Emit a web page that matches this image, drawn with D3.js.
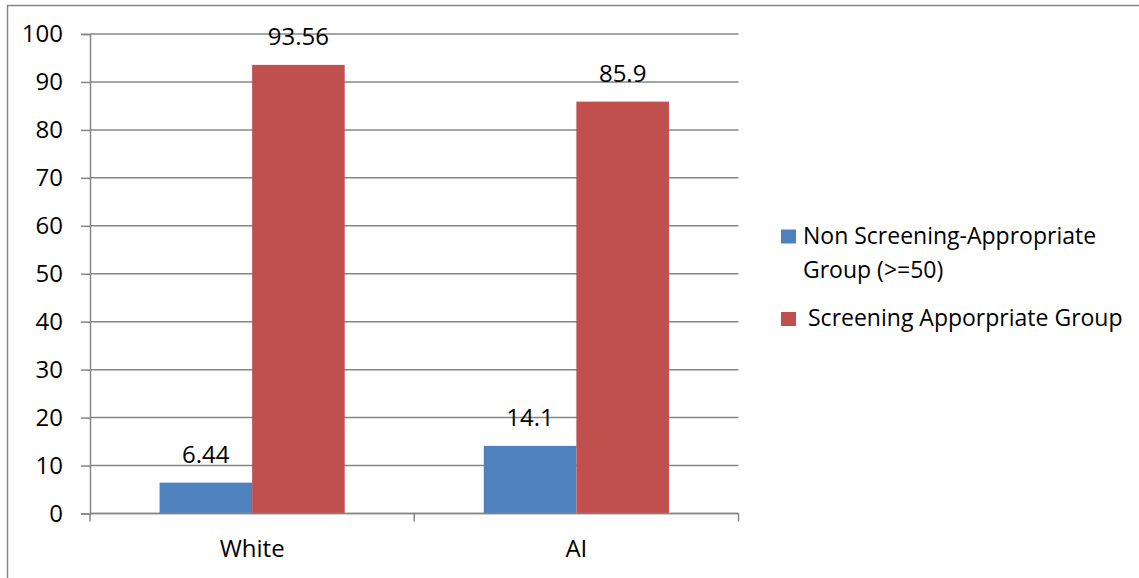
<!DOCTYPE html>
<html>
<head>
<meta charset="utf-8">
<script src="https://cdn.jsdelivr.net/npm/d3@7/dist/d3.min.js"></script>
<style>
  html, body { margin: 0; padding: 0; background: #fff; }
  text { font-family: "Open Sans", "Liberation Sans", sans-serif; fill: #000; }
</style>
</head>
<body>
<svg id="chart" width="1139" height="578"></svg>
<script>
// Chart data
const categories = ["White", "AI"];
const seriesNames = ["Non Screening-Appropriate Group (>=50)", "Screening Apporpriate Group"];
const nonScreening = [6.44, 14.1];
const screening = [93.56, 85.9];
const valueLabels = [["6.44", "14.1"], ["93.56", "85.9"]];
const yTicks = [0, 10, 20, 30, 40, 50, 60, 70, 80, 90, 100];

const colors = ["#4F81BD", "#C0504D"];
const series = [nonScreening, screening];

const svg = d3.select("#chart");
const fontSize = 24;
const legendFontSize = 23;

// outer frame
svg.append("rect")
  .attr("x", 7.5).attr("y", 5.5)
  .attr("width", 1200).attr("height", 700)
  .attr("fill", "none").attr("stroke", "#868686").attr("stroke-width", 1.5);

const plot = { left: 90, right: 738.5, top: 34, bottom: 513.5 };

const x = d3.scaleBand()
  .domain(categories)
  .range([plot.left, plot.right])
  .paddingInner(0.429)
  .paddingOuter(0.2145);

const x1 = d3.scaleBand()
  .domain(d3.range(series.length))
  .range([0, x.bandwidth()]);

const y = d3.scaleLinear().domain([0, 100]).range([plot.bottom, plot.top]);

// horizontal gridlines
svg.append("g").selectAll("line")
  .data(yTicks)
  .join("line")
  .attr("x1", plot.left).attr("x2", plot.right)
  .attr("y1", d => y(d)).attr("y2", d => y(d))
  .attr("stroke", "#868686").attr("stroke-width", 1.5);

// y axis
const yAxis = d3.axisLeft(y).tickValues(yTicks).tickSize(9).tickPadding(18).tickFormat(d3.format("d"));
const gy = svg.append("g").attr("transform", `translate(${plot.left},0)`).call(yAxis)
  .attr("font-size", fontSize).attr("font-family", null);
gy.select(".domain").attr("stroke", "#868686").attr("stroke-width", 1.5);
gy.selectAll(".tick line").attr("stroke", "#868686").attr("stroke-width", 1.5);
gy.selectAll(".tick text").attr("fill", "#000");

// bars
categories.forEach((c, ci) => {
  series.forEach((s, si) => {
    const bx = x(c) + x1(si);
    svg.append("rect")
      .attr("x", bx).attr("y", y(s[ci]))
      .attr("width", x1.bandwidth())
      .attr("height", y(0) - y(s[ci]))
      .attr("fill", colors[si]);
    svg.append("text")
      .attr("x", bx + x1.bandwidth() / 2)
      .attr("y", y(s[ci]) - 20)
      .attr("text-anchor", "middle")
      .attr("font-size", fontSize)
      .text(valueLabels[si][ci]);
  });
});

// x axis baseline with category dividers
const gx = svg.append("g");
gx.append("line")
  .attr("x1", plot.left).attr("x2", plot.right)
  .attr("y1", plot.bottom).attr("y2", plot.bottom)
  .attr("stroke", "#868686").attr("stroke-width", 1.5);
const dividers = [plot.left, ...categories.map(c => x(c) + x.bandwidth() + x.step() * x.paddingInner() / 2)];
dividers[dividers.length - 1] = plot.right;
gx.selectAll("line.tick")
  .data(dividers)
  .join("line")
  .attr("class", "tick")
  .attr("x1", d => d).attr("x2", d => d)
  .attr("y1", plot.bottom).attr("y2", plot.bottom + 8)
  .attr("stroke", "#868686").attr("stroke-width", 1.5);
gx.selectAll("text")
  .data(categories)
  .join("text")
  .attr("x", d => x(d) + x.bandwidth() / 2)
  .attr("y", 557)
  .attr("text-anchor", "middle")
  .attr("font-size", fontSize)
  .text(d => d);

// legend
const legend = svg.append("g");
const legendItems = [
  { lines: ["Non Screening-Appropriate", "Group (>=50)"], sq: 229.5, tx: 803, ty: [244, 278] },
  { lines: ["Screening Apporpriate Group"], sq: 312, tx: 808, ty: [326] }
];
legendItems.forEach((it, i) => {
  legend.append("rect")
    .attr("x", 781).attr("y", it.sq)
    .attr("width", 15).attr("height", 14)
    .attr("fill", colors[i]);
  it.lines.forEach((t, li) => {
    legend.append("text")
      .attr("x", it.tx).attr("y", it.ty[li])
      .attr("font-size", legendFontSize)
      .text(t);
  });
});
</script>
</body>
</html>
